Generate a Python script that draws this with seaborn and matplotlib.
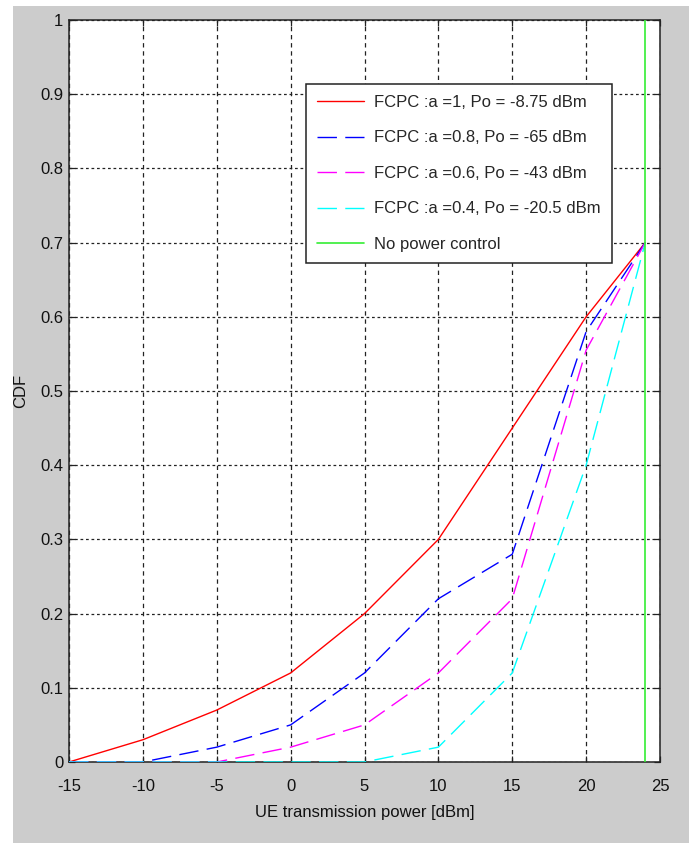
import numpy as np
import pandas as pd
import matplotlib
matplotlib.use("Agg")
import matplotlib.pyplot as plt
from matplotlib.patches import Rectangle
import seaborn as sns

# ---------------- data ----------------
x_power = [-15, -10, -5, 0, 5, 10, 15, 20, 24]
cdf_a1 = [0, 0.03, 0.07, 0.12, 0.20, 0.30, 0.45, 0.60, 0.70]
cdf_a08 = [0, 0, 0.02, 0.05, 0.12, 0.22, 0.28, 0.58, 0.70]
cdf_a06 = [0, 0, 0, 0.02, 0.05, 0.12, 0.22, 0.555, 0.70]
cdf_a04 = [0, 0, 0, 0, 0, 0.02, 0.12, 0.40, 0.70]
nopc_x = [24, 24]
nopc_y = [0, 1]

labels = [
    "FCPC :a =1, Po = -8.75 dBm",
    "FCPC :a =0.8, Po = -65 dBm",
    "FCPC :a =0.6, Po = -43 dBm",
    "FCPC :a =0.4, Po = -20.5 dBm",
    "No power control",
]
xticks = [-15, -10, -5, 0, 5, 10, 15, 20, 25]
yticks = [0, 0.1, 0.2, 0.3, 0.4, 0.5, 0.6, 0.7, 0.8, 0.9, 1]
ytick_labels = ["0", "0.1", "0.2", "0.3", "0.4", "0.5", "0.6", "0.7", "0.8", "0.9", "1"]

# ---------------- style ----------------
sns.set_theme(style="white")
fam, fs = "Liberation Sans", 12
plt.rcParams["font.family"] = [fam, "DejaVu Sans"]
plt.rcParams["font.size"] = fs

W, H = 695, 843
fig = plt.figure(figsize=(W / 100, H / 100), dpi=100)
fig.patch.set_facecolor("white")
fig.add_artist(Rectangle((13 / W, 0), (689 - 13) / W, (843 - 6) / H,
                         transform=fig.transFigure, facecolor="#cccccc",
                         edgecolor="none", zorder=-10))

L, R, T, B = 69, 660, 20, 762
ax = fig.add_axes([L / W, (H - B) / H, (R - L) / W, (B - T) / H])
ax.set_facecolor("white")

dash = (0, (14, 6))
series = [
    (cdf_a1, "#ff0000", "-"),
    (cdf_a08, "#0000ff", dash),
    (cdf_a06, "#ff00ff", dash),
    (cdf_a04, "#00ffff", dash),
]
for (vals, col, ls), lab in zip(series, labels[:4]):
    df = pd.DataFrame({"x": x_power, "y": vals})
    sns.lineplot(data=df, x="x", y="y", ax=ax, color=col, linestyle=ls,
                 linewidth=1.0, label=lab, sort=False, estimator=None, zorder=3)
df_g = pd.DataFrame({"x": nopc_x, "y": nopc_y})
sns.lineplot(data=df_g, x="x", y="y", ax=ax, color="#33ee33", linewidth=1.2,
             label=labels[4], sort=False, estimator=None, orient="y", zorder=3)

ax.set_xlim(-15, 25)
ax.set_ylim(0, 1)
ax.set_xticks(xticks)
ax.set_xticklabels([str(v) for v in xticks])
ax.set_yticks(yticks)
ax.set_yticklabels(ytick_labels)

# grid (MATLAB dotted look)
ax.xaxis.grid(True, color="#222222", linestyle=(0, (3.5, 3)), linewidth=0.9)
ax.yaxis.grid(True, color="#222222", linestyle=(0, (2.2, 2.2)), linewidth=0.9)
ax.set_axisbelow(True)

for sp in ax.spines.values():
    sp.set_color("#222222")
    sp.set_linewidth(1.1)
    sp.set_visible(True)

ax.tick_params(axis="both", which="both", direction="in", length=4, width=0.9,
               color="#222222", top=True, right=True, bottom=True, left=True,
               labelsize=fs, labelcolor="#111111")
ax.tick_params(axis="x", pad=12)
ax.tick_params(axis="y", pad=4)

ax.set_xlabel("UE transmission power [dBm]", fontsize=fs, color="#111111")
ax.set_ylabel("CDF", fontsize=fs, color="#111111")
ax.xaxis.set_label_coords(0.5, (B - 813) / (B - T))
ax.yaxis.set_label_coords((21 - L) / (R - L), 0.5)
ax.xaxis.label.set_va("center")
ax.yaxis.label.set_va("center")

fpx = fs * 100 / 72
leg = ax.legend(loc="upper right",
                bbox_to_anchor=((612 - L) / (R - L), (B - 84) / (B - T)),
                borderaxespad=0, frameon=True, fancybox=False, shadow=False,
                fontsize=fs, handlelength=47 / fpx, handletextpad=10 / fpx,
                borderpad=11 / fpx, labelspacing=(35 - 1.17 * fpx) / fpx + 0.30)
leg.get_frame().set_edgecolor("#222222")
leg.get_frame().set_linewidth(1.1)
leg.get_frame().set_facecolor("white")
leg.get_frame().set_alpha(1)

fig.savefig("out.png", dpi=100, facecolor=fig.get_facecolor())
